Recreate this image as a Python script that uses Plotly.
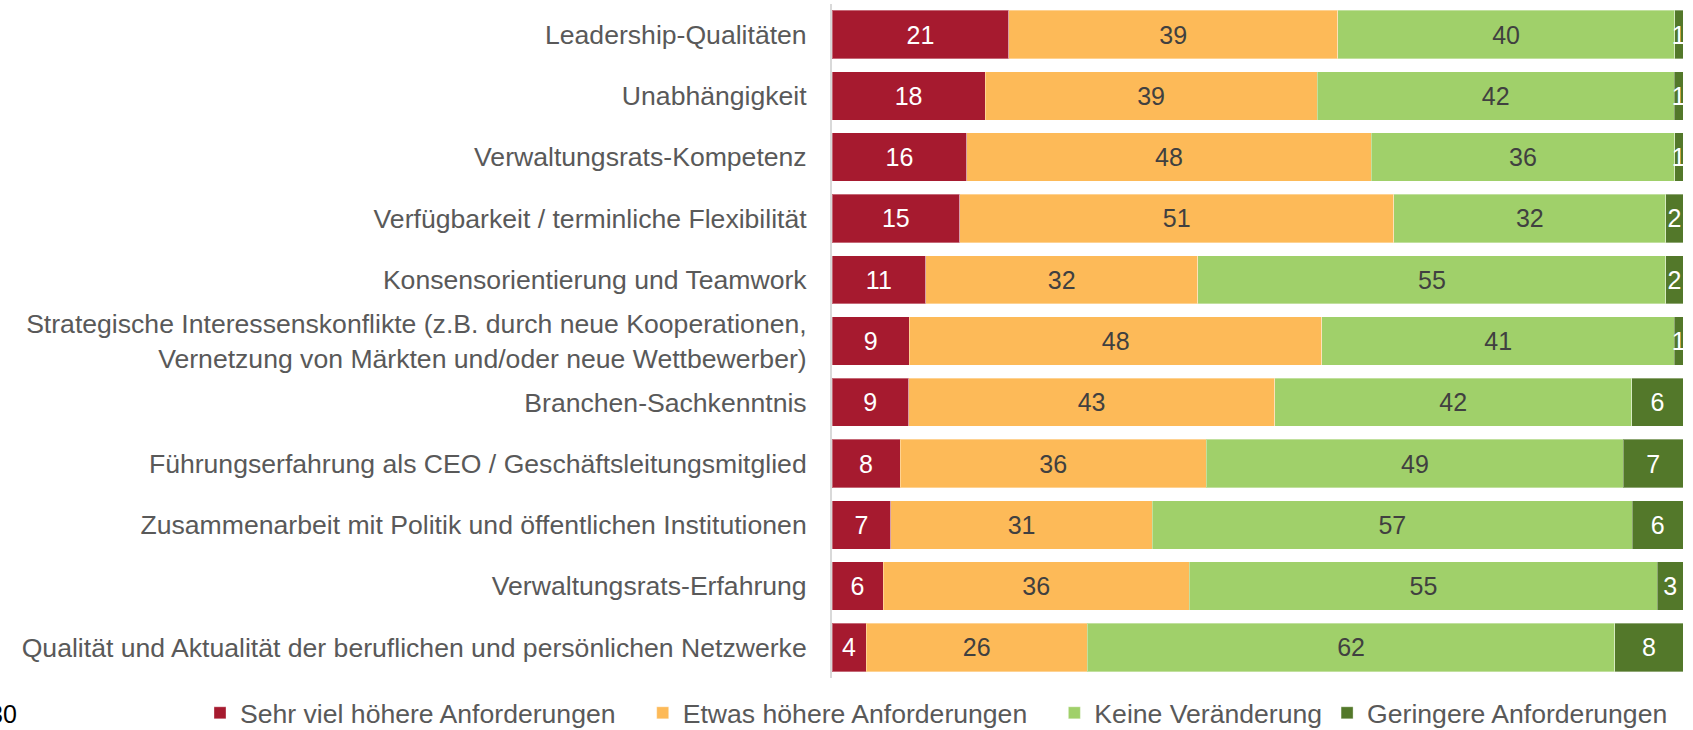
import plotly.graph_objects as go

categories = [
    "Leadership-Qualitäten",
    "Unabhängigkeit",
    "Verwaltungsrats-Kompetenz",
    "Verfügbarkeit / terminliche Flexibilität",
    "Konsensorientierung und Teamwork",
    "Strategische Interessenskonflikte (z.B. durch neue Kooperationen,<br>Vernetzung von Märkten und/oder neue Wettbewerber)",
    "Branchen-Sachkenntnis",
    "Führungserfahrung als CEO / Geschäftsleitungsmitglied",
    "Zusammenarbeit mit Politik und öffentlichen Institutionen",
    "Verwaltungsrats-Erfahrung",
    "Qualität und Aktualität der beruflichen und persönlichen Netzwerke",
]

sehr_viel_hoeher = [21, 18, 16, 15, 11, 9, 9, 8, 7, 6, 4]
etwas_hoeher = [39, 39, 48, 51, 32, 48, 43, 36, 31, 36, 26]
keine_veraenderung = [40, 42, 36, 32, 55, 41, 42, 49, 57, 55, 62]
geringere = [1, 1, 1, 2, 2, 1, 6, 7, 6, 3, 8]

series_names = [
    "Sehr viel höhere Anforderungen",
    "Etwas höhere Anforderungen",
    "Keine Veränderung",
    "Geringere Anforderungen",
]
series_values = [sehr_viel_hoeher, etwas_hoeher, keine_veraenderung, geringere]
colors = ["#A61A2F", "#FDBA58", "#A0D06A", "#53782A"]
text_colors = ["#FFFFFF", "#404040", "#404040", "#FFFFFF"]
legend_pads = ["\u00a0\u00a0\u00a0", "\u00a0\u00a0\u00a0", "", ""]

FONT = "Liberation Sans, Arial, sans-serif"
LABEL_SIZE = 26.6

fig = go.Figure()
for name, vals, col, tcol, pad in zip(series_names, series_values, colors, text_colors, legend_pads):
    fig.add_trace(go.Bar(
        y=categories,
        x=vals,
        name=name + pad,
        orientation="h",
        marker=dict(color=col, line=dict(color="rgba(255,255,255,0.35)", width=1)),
        text=[str(v) for v in vals],
        textposition="inside",
        insidetextanchor="middle",
        textangle=0,
        textfont=dict(color=tcol, size=25, family=FONT),
        cliponaxis=False,
    ))

fig.update_layout(
    barmode="stack",
    barnorm="percent",
    bargap=0.21,
    width=1693,
    height=730,
    margin=dict(l=832, r=10, t=4, b=52, autoexpand=False),
    paper_bgcolor="white",
    plot_bgcolor="white",
    font=dict(family=FONT, size=LABEL_SIZE, color="#595959"),
    uniformtext=dict(minsize=25, mode="show"),
    showlegend=True,
    legend=dict(
        orientation="h",
        xref="paper",
        x=(200 - 832) / 851,
        xanchor="left",
        yref="paper",
        y=(678 - 713) / 674,
        yanchor="middle",
        font=dict(size=LABEL_SIZE, color="#595959", family=FONT),
        itemwidth=30,
        traceorder="normal",
        bgcolor="rgba(0,0,0,0)",
    ),
    xaxis=dict(
        range=[0, 100],
        visible=False,
        fixedrange=True,
    ),
    yaxis=dict(
        autorange="reversed",
        showline=True,
        linecolor="#D9D9D9",
        linewidth=2,
        showgrid=False,
        ticks="",
        ticklabelstandoff=18,
        tickfont=dict(size=LABEL_SIZE, color="#595959", family=FONT),
    ),
)

fig.add_annotation(
    text="30",
    xref="paper", yref="paper",
    x=(19 - 832) / 851, y=(678 - 714) / 674,
    xanchor="right", yanchor="middle",
    showarrow=False,
    font=dict(size=25, color="#000000", family=FONT),
)

fig.write_html(
    "out.html",
    config={"displayModeBar": False},
    post_script="document.body.style.margin='0';",
)
